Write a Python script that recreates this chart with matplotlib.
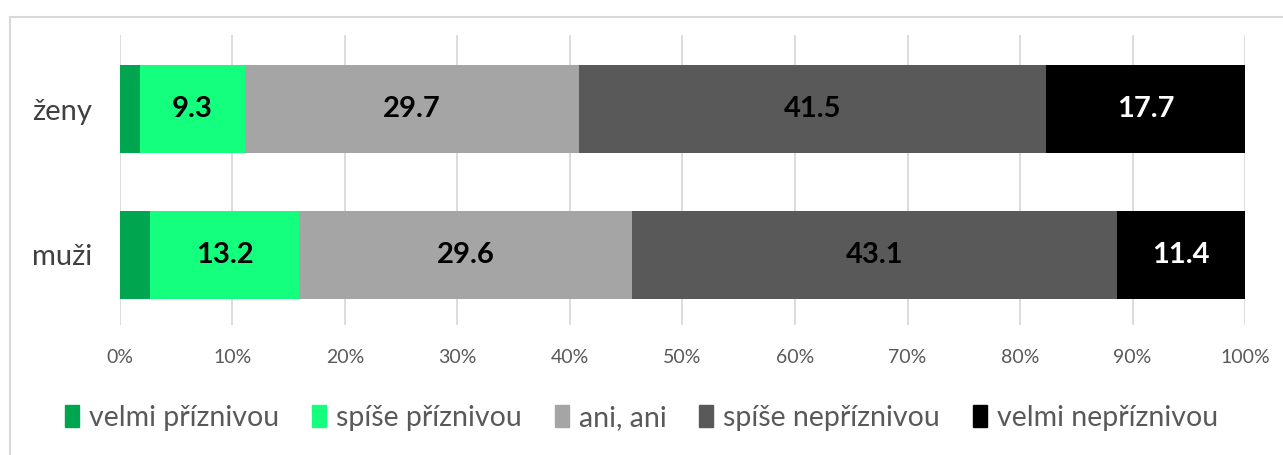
import matplotlib.pyplot as plt
from matplotlib.patches import Rectangle
from matplotlib.ticker import PercentFormatter

plt.rcParams['font.family'] = ['Lato', 'DejaVu Sans']

groups = ['muži', 'ženy']
categories = ['velmi příznivou', 'spíše příznivou', 'ani, ani', 'spíše nepříznivou', 'velmi nepříznivou']
values = {
    'velmi příznivou':   [2.7, 1.8],
    'spíše příznivou':   [13.2, 9.3],
    'ani, ani':          [29.6, 29.7],
    'spíše nepříznivou': [43.1, 41.5],
    'velmi nepříznivou': [11.4, 17.7],
}
colors = ['#00A64F', '#14FF7E', '#A5A5A5', '#595959', '#000000']
label_colors = [None, 'black', 'black', 'black', 'white']

fig = plt.figure(figsize=(12.83, 4.55), dpi=100)
ax = fig.add_axes([0.0935, 0.2857, 0.8769, 0.6373])

# light frame around chart area
fig.patches.append(Rectangle((10 / 1283, -0.1), 1.2, 1 - 17 / 455 + 0.1, transform=fig.transFigure,
                             fill=False, edgecolor='#D9D9D9', linewidth=1.5))

ypos = [0, 1]
left = [0.0, 0.0]
for cat, col, lc in zip(categories, colors, label_colors):
    vals = values[cat]
    ax.barh(ypos, vals, left=left, height=0.6, color=col, zorder=3)
    if lc is not None:
        for y, l, v in zip(ypos, left, vals):
            ax.text(l + v / 2, y, f'{v:.1f}', ha='center', va='center', color=lc,
                    fontsize=21, fontweight='bold', zorder=4)
    left = [l + v for l, v in zip(left, vals)]

ax.set_xlim(0, 100)
ax.set_ylim(-0.48, 1.507)
ax.set_xticks(range(0, 101, 10))
ax.xaxis.set_major_formatter(PercentFormatter(decimals=0))
ax.set_yticks(ypos)
ax.set_yticklabels(groups)
ax.grid(axis='x', color='#D9D9D9', linewidth=1.3, zorder=0)
ax.tick_params(axis='x', length=0, labelsize=14, labelcolor='#595959', pad=17)
ax.tick_params(axis='y', length=0, labelsize=21, labelcolor='#404040', pad=20)
for s in ax.spines.values():
    s.set_visible(False)

handles = [Rectangle((0, 0), 1, 1, color=c) for c in colors]
fig.legend(handles, categories, loc='center', bbox_to_anchor=(0.5, 1 - 418 / 455), ncol=5,
           frameon=False, fontsize=20.5, handlelength=0.5, handleheight=0.8,
           handletextpad=0.35, columnspacing=1.15, labelcolor='#595959')

fig.savefig('out.png', dpi=100)
